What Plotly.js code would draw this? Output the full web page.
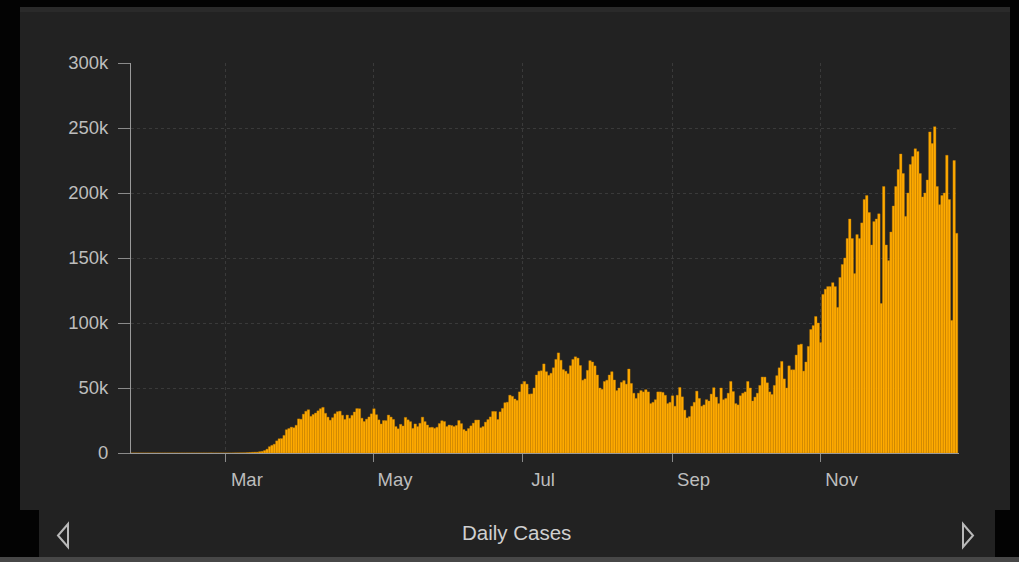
<!DOCTYPE html>
<html><head><meta charset="utf-8">
<script src="https://cdn.plot.ly/plotly-3.0.1.min.js"></script>
<style>
html,body{margin:0;padding:0;background:#030303;width:1019px;height:562px;overflow:hidden;}
#panel{position:absolute;left:20px;top:7px;width:990px;height:503px;background:#222;border-top:5px solid #2a2a2a;box-sizing:border-box}
#foot{position:absolute;left:39px;top:510px;width:956px;height:47px;background:#222}
#strip{position:absolute;left:0;top:557px;width:1019px;height:5px;background:#474747}
#chart{position:absolute;left:0;top:0;width:1019px;height:562px}
#arrows{position:absolute;left:0;top:0;width:1019px;height:562px}
</style></head>
<body>
<div id="panel"></div><div id="foot"></div><div id="strip"></div>
<svg id="arrows" width="1019" height="562">
  <polygon points="68,524 58,535.5 68,547" fill="none" stroke="#b8b8b8" stroke-width="2"/>
  <polygon points="963,524 973,535.5 963,547" fill="none" stroke="#b8b8b8" stroke-width="2"/>
</svg>
<div id="chart"></div>
<script>
// Daily cases, starting 2020-01-22
const jan = [1,0,1,0,3,0,0,0,0,2];
const feb = [1,0,1,0,0,0,1,0,0,0,1,1,0,0,0,0,0,0,0,0,20,0,0,36,0,3,1,2,8];
const mar = [8,23,24,30,77,88,123,131,152,289,412,569,646,658,1030,1243,1931,2951,4865,5898,6777,9349,10953,11080,13541,17910,18819,19877,19412,21338,26228];
const apr = [25976,29874,32100,33267,28219,29595,30738,32449,34087,35098,30532,27608,25244,27167,30162,31770,32166,29057,25844,29174,26719,28974,31558,34163,34035,26779,24215,26037,27731,30116];
const may = [34037,29447,25501,22335,24972,24899,29163,27652,25836,20329,18621,22048,20782,27368,25508,24112,18937,22350,20289,22884,27567,24146,21531,19608,19771,18960,19817,22658,24801,24190,20350];
const jun = [21494,21116,20342,21179,24999,22616,18055,16914,18808,20858,22978,25328,25394,19426,20345,23735,25723,27762,31966,31935,25795,31640,34313,38672,39072,44473,43581,41556,40455,47010];
const jul = [53000,55000,53000,45285,45489,50000,60000,62918,63260,68518,62530,59747,61348,65551,72000,77000,71359,64145,62908,60971,67140,72000,74000,73000,67316,56000,57000,63584,71000,70000,67023];
const aug = [60000,50000,49000,55000,56000,60000,62538,56174,48000,50000,54345,55701,52969,64601,53523,46000,42000,46000,48000,47000,48693,47000,38000,39000,41000,47000,47000,46605,44409,38000,39000];
const sep = [44000,36000,44429,50418,43193,33000,27000,28000,36000,39000,47592,42000,36000,37000,41000,40000,45314,50220,43000,38000,50000,41000,42000,46000,55054,47268,38000,37000,44000,46000];
const oct = [47000,55020,50012,40000,43000,46000,52000,58420,58389,54000,47000,45000,52000,59494,65540,70451,57000,50000,67048,64000,64000,75349,83178,83718,63000,70000,82000,95000,98000,105000,100000];
const nov = [85000,122000,126000,128000,128000,131000,128000,112000,135000,145000,150000,165000,180000,165000,138000,168000,165000,177000,195000,198000,185000,160000,178000,180000,184000,115000,205000,160000,148000,170000];
const dec = [190000,205000,218000,230000,215000,182000,200000,222000,228000,234000,232000,215000,197000,200000,210000,247000,238000,251000,205000,191000,198000,200000,229000,195000,102000,225000,169000];

const yTickVals = [0,50000,100000,150000,200000,250000,300000];
const yTickText = ['0','50k','100k','150k','200k','250k','300k'];
const xTickVals = ['2020-03-01','2020-05-01','2020-07-01','2020-09-01','2020-11-01'];
const xTickText = ['Mar','May','Jul','Sep','Nov'];
const axisTitle = 'Daily Cases';

const values = [].concat(jan,feb,mar,apr,may,jun,jul,aug,sep,oct,nov,dec);
const dates = [];
const d0 = Date.UTC(2020,0,22);
for (let i=0;i<values.length;i++){
  const d = new Date(d0 + i*86400000);
  dates.push(d.toISOString().slice(0,10));
}

const trace = {
  type:'bar', x:dates, y:values,
  marker:{color:'#ffab00', line:{color:'#c98200', width:0.4}},
  hoverinfo:'skip'
};

const L=131, T=63, W=828, H=390;
const layout = {
  width:1019, height:562,
  margin:{l:L, r:1019-L-W, t:T, b:562-T-H, pad:0},
  paper_bgcolor:'rgba(0,0,0,0)', plot_bgcolor:'rgba(0,0,0,0)',
  font:{family:'Liberation Sans, Arial, sans-serif', size:18.5, color:'#bdbdbd'},
  bargap:0, showlegend:false,
  xaxis:{type:'date', range:['2020-01-21 22:00','2020-12-28 00:00'],
    tickmode:'array', tickvals:xTickVals, ticktext:xTickText,
    ticks:'outside', ticklen:8, tickcolor:'#8a8a8a', ticklabelshift:21, ticklabelstandoff:2,
    showgrid:true, gridcolor:'#3a3a3a', griddash:'dot', gridwidth:1,
    showline:true, linecolor:'#9a9a9a', linewidth:1, zeroline:false, fixedrange:true},
  yaxis:{range:[0,300000], tickmode:'array', tickvals:yTickVals, ticktext:yTickText,
    ticks:'outside', ticklen:12, tickcolor:'#8a8a8a', ticklabelstandoff:6,
    showgrid:true, gridcolor:'#3a3a3a', griddash:'dot', gridwidth:1,
    showline:true, linecolor:'#9a9a9a', linewidth:1, zeroline:false, fixedrange:true},
  annotations:[{text:axisTitle, xref:'paper', yref:'paper',
    x:(516-L)/W, y:(T+H-532)/H, xanchor:'center', yanchor:'middle', showarrow:false,
    font:{size:20.5, color:'#d0d0d0', family:'Liberation Sans, Arial, sans-serif'}}]
};
Plotly.newPlot('chart',[trace],layout,{displayModeBar:false, staticPlot:true});
</script>
</body></html>
